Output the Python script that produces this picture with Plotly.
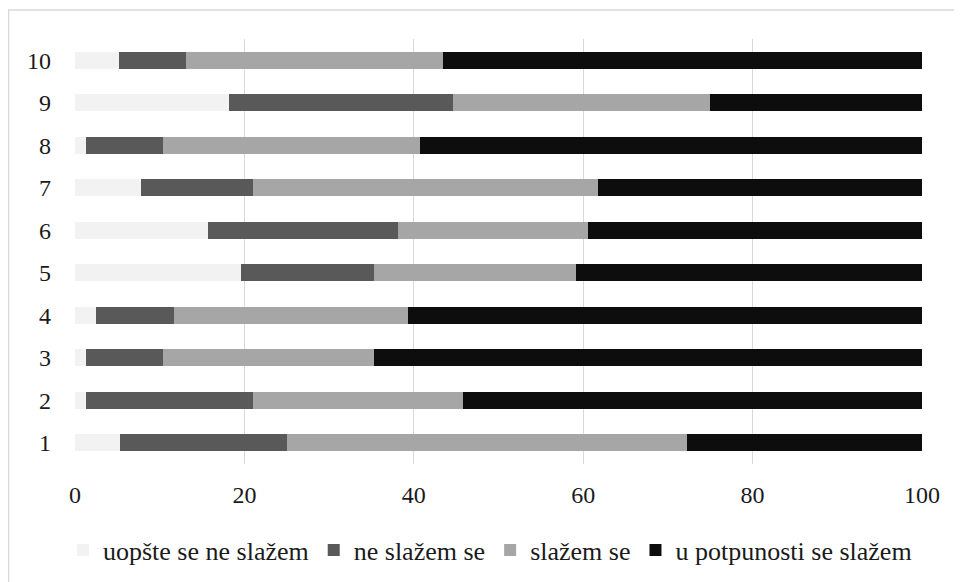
import plotly.graph_objects as go

categories = ["1", "2", "3", "4", "5", "6", "7", "8", "9", "10"]
series_names = ["uopšte se ne slažem", "ne slažem se", "slažem se", "u potpunosti se slažem"]
uopste_se_ne_slazem = [5.3, 1.3, 1.3, 2.5, 19.6, 15.7, 7.8, 1.3, 18.2, 5.2]
ne_slazem_se = [19.7, 19.7, 9.1, 9.2, 15.7, 22.4, 13.2, 9.1, 26.4, 7.9]
slazem_se = [47.3, 24.8, 24.9, 27.6, 23.8, 22.5, 40.8, 30.3, 30.4, 30.3]
u_potpunosti_se_slazem = [27.7, 54.2, 64.7, 60.7, 40.9, 39.4, 38.2, 59.3, 25.0, 56.6]
x_ticks = [0, 20, 40, 60, 80, 100]

colors = ["#F2F2F2", "#595959", "#A6A6A6", "#0D0D0D"]
all_series = [uopste_se_ne_slazem, ne_slazem_se, slazem_se, u_potpunosti_se_slazem]

fig = go.Figure()
for name, vals, col in zip(series_names, all_series, colors):
    fig.add_trace(go.Bar(
        y=categories, x=vals, name=name, orientation="h",
        marker=dict(color=col, line=dict(width=0)),
        hoverinfo="skip",
    ))

font_family = "Liberation Serif"
text_color = "#1a1a1a"

fig.update_layout(
    width=962, height=582,
    barmode="stack",
    bargap=0.6,
    plot_bgcolor="white",
    paper_bgcolor="white",
    margin=dict(l=67, r=48, t=31, b=126, autoexpand=False),
    font=dict(family=font_family, size=24, color=text_color),
    showlegend=True,
    legend=dict(
        orientation="h", xref="paper", yref="paper",
        x=-0.0142, xanchor="left", y=-0.2024, yanchor="middle",
        font=dict(family=font_family, size=26, color=text_color),
        traceorder="normal", itemclick=False, itemdoubleclick=False,
        bgcolor="rgba(0,0,0,0)",
    ),
    hovermode=False,
    xaxis=dict(
        range=[0, 100], tickvals=x_ticks, ticktext=[str(v) for v in x_ticks],
        showgrid=True, gridcolor="#D9D9D9", gridwidth=1,
        zeroline=False, showline=False, ticks="",
        ticklabelstandoff=14,
        tickfont=dict(family=font_family, size=24, color=text_color),
    ),
    yaxis=dict(
        type="category", categoryorder="array", categoryarray=categories,
        showgrid=False, zeroline=False, showline=False, ticks="",
        ticklabelstandoff=23,
        tickfont=dict(family=font_family, size=24, color=text_color),
    ),
    shapes=[dict(
        type="rect", xref="paper", yref="paper",
        x0=-0.0785, x1=1.1, y0=-0.45, y1=1.068,
        line=dict(color="#D9D9D9", width=1.5), fillcolor="rgba(0,0,0,0)",
        layer="below",
    )],
)

fig.write_html("out.html")
